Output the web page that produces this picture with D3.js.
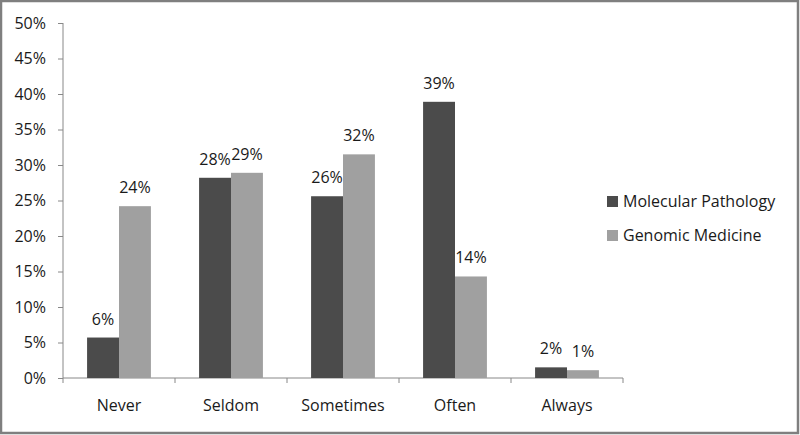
<!DOCTYPE html>
<meta charset="utf-8">
<style>
body { margin: 0; background: #fff; }
svg text { font-family: "Open Sans", sans-serif; font-size: 16px; fill: #1a1a1a; }
.axis path, .axis line { stroke: #888; }
</style>
<svg width="800" height="435"></svg>
<script src="https://d3js.org/d3.v7.min.js"></script>
<script>

var categories = ["Never", "Seldom", "Sometimes", "Often", "Always"];
var seriesNames = ["Molecular Pathology", "Genomic Medicine"];
var molecular = [5.7, 28.2, 25.6, 38.9, 1.5];
var genomic = [24.2, 28.9, 31.5, 14.3, 1.1];
var shownMolecular = ["6%", "28%", "26%", "39%", "2%"];
var shownGenomic = ["24%", "29%", "32%", "14%", "1%"];
var yTicks = [0, 5, 10, 15, 20, 25, 30, 35, 40, 45, 50];

var colors = ["#4b4b4b", "#a0a0a0"];

var svg = d3.select("svg");

// outer frame
svg.append("rect")
    .attr("x", 1).attr("y", 1).attr("width", 797).attr("height", 432)
    .attr("fill", "#fff").attr("stroke", "#7f7f7f").attr("stroke-width", 2.5);

var plotL = 63, plotR = 623, plotT = 23, plotB = 378;

var x = d3.scaleBand().domain(categories).range([plotL, plotR]);
var y = d3.scaleLinear().domain([0, 50]).range([plotB, plotT]);
var barW = x.bandwidth() * 0.285;

// y axis
var yAxis = svg.append("g")
    .attr("class", "axis")
    .attr("transform", "translate(" + plotL + ",0)")
    .call(d3.axisLeft(y).tickValues(yTicks).tickSize(5).tickPadding(12).tickFormat(d => d + "%"));
yAxis.select(".domain").attr("d", "M0," + plotT + "V" + plotB);

// x axis
var xAxis = svg.append("g")
    .attr("class", "axis")
    .attr("transform", "translate(0," + plotB + ")")
    .call(d3.axisBottom(x).tickSize(0).tickPadding(22));
xAxis.select(".domain").attr("d", "M" + plotL + ",0H" + plotR);
xAxis.selectAll(".sep")
    .data(d3.range(categories.length + 1))
    .enter().append("line")
    .attr("x1", i => plotL + i * x.step())
    .attr("x2", i => plotL + i * x.step())
    .attr("y1", 0).attr("y2", 5)
    .attr("stroke", "#888");
svg.selectAll(".axis text").attr("fill", "#1a1a1a").style("font-size", "16px").style("font-family", "'Open Sans', sans-serif");

var series = [
  {name: seriesNames[0], values: molecular, labels: shownMolecular, off: -barW},
  {name: seriesNames[1], values: genomic, labels: shownGenomic, off: 0}
];

series.forEach(function(s, si) {
  var g = svg.append("g");
  g.selectAll("rect")
    .data(categories)
    .enter().append("rect")
      .attr("x", (c) => x(c) + x.bandwidth() / 2 + s.off)
      .attr("y", (c, i) => y(s.values[i]))
      .attr("width", barW)
      .attr("height", (c, i) => plotB - y(s.values[i]))
      .attr("fill", colors[si]);
  g.selectAll("text")
    .data(categories)
    .enter().append("text")
      .attr("x", (c) => x(c) + x.bandwidth() / 2 + s.off + barW / 2)
      .attr("y", (c, i) => y(s.values[i]) - 13)
      .attr("text-anchor", "middle")
      .text((c, i) => s.labels[i]);
});

// legend
var legend = svg.append("g").attr("transform", "translate(607,196)");
seriesNames.forEach(function(n, i) {
  legend.append("rect")
    .attr("x", 0).attr("y", i * 34)
    .attr("width", 11).attr("height", 11)
    .attr("fill", colors[i]);
  legend.append("text")
    .attr("x", 16).attr("y", i * 34 + 11)
    .text(n);
});

</script>
